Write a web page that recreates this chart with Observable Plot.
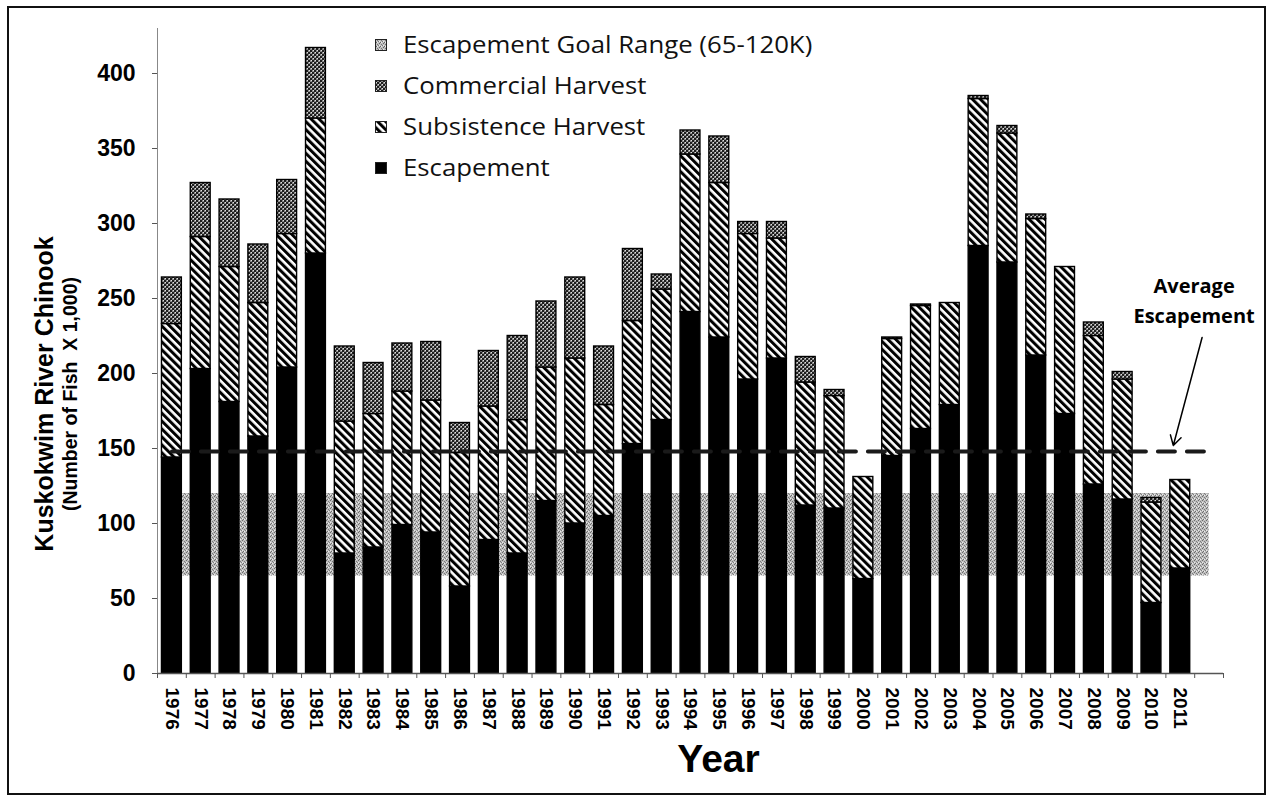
<!DOCTYPE html>
<html>
<head>
<meta charset="utf-8">
<script src="https://cdn.jsdelivr.net/npm/d3@7"></script>
<script src="https://cdn.jsdelivr.net/npm/@observablehq/plot@0.6"></script>
<style>
  body { margin: 0; background: #fff; }
  #wrap { position: relative; width: 1275px; height: 800px; overflow: hidden; background: #fff; }
  #frame { position: absolute; left: 7px; top: 6px; width: 1259px; height: 789px; border: 2px solid #111; box-sizing: border-box; pointer-events: none; }
  #legend { position: absolute; left: 375px; top: 24px; font-family: "Open Sans", sans-serif; font-size: 23px; line-height: 41px; color: #111; }
  #legend .row { display: flex; align-items: center; white-space: nowrap; }
  #legend svg { margin-right: 16px; flex: none; }
  #legend span { display: inline-block; transform: scaleX(1.12); transform-origin: left center; }
</style>
</head>
<body>
<div id="wrap">
  <svg width="0" height="0" style="position:absolute">
    <defs>
      <pattern id="hatch" width="5.6" height="5.6" patternUnits="userSpaceOnUse" patternTransform="rotate(-45)">
        <rect width="5.6" height="5.6" fill="#fff"/>
        <rect width="3.0" height="5.6" fill="#000"/>
      </pattern>
      <pattern id="stip" width="4" height="4" patternUnits="userSpaceOnUse">
        <rect width="4" height="4" fill="#8a8a8a"/>
        <rect x="0" y="0" width="2" height="2" fill="#1e1e1e"/>
        <rect x="2" y="2" width="2" height="2" fill="#1e1e1e"/>
        <rect x="3" y="0" width="1" height="1" fill="#e0e0e0"/>
        <rect x="1" y="2" width="1" height="1" fill="#e0e0e0"/>
      </pattern>
      <pattern id="goal" width="4" height="4" patternUnits="userSpaceOnUse">
        <rect width="4" height="4" fill="#c0c0c0"/>
        <rect x="0" y="0" width="1" height="1" fill="#666"/>
        <rect x="2" y="1" width="1" height="1" fill="#777"/>
        <rect x="1" y="3" width="1" height="1" fill="#666"/>
        <rect x="3" y="2" width="1" height="1" fill="#777"/>
        <rect x="2" y="3" width="1" height="1" fill="#eeeeee"/>
        <rect x="0" y="2" width="1" height="1" fill="#eeeeee"/>
      </pattern>
    </defs>
  </svg>
  <div id="chart"></div>
  <div id="legend"></div>
  <div id="frame"></div>
</div>
<script>
// ---- data (thousands of fish) ----
const years = ["1976","1977","1978","1979","1980","1981","1982","1983","1984","1985","1986","1987","1988","1989","1990","1991","1992","1993","1994","1995","1996","1997","1998","1999","2000","2001","2002","2003","2004","2005","2006","2007","2008","2009","2010","2011"];
const escapement  = [144,203,181,158,204,280,80,84,99,94,58,89,80,115,100,105,153,169,241,224,196,210,112,110,63,145,163,179,285,274,212,173,126,116,47,70];
const subsistence = [89,88,90,89,89,90,88,89,89,88,89,89,89,89,110,74,82,87,105,103,97,80,82,75,68,78,82,68,98,86,91,98,99,80,67,59];
const commercial  = [31,36,45,39,36,47,50,34,32,39,20,37,56,44,54,39,48,10,16,31,8,11,17,4,0,1,1,0,2,5,3,0,9,5,3,0];
const seriesNames = ["Escapement", "Subsistence Harvest", "Commercial Harvest"];
const goalLow = 65, goalHigh = 120;
const averageEscapement = 148;
const yTicks = [0,50,100,150,200,250,300,350,400];
const legendItems = ["Escapement Goal Range (65-120K)", "Commercial Harvest", "Subsistence Harvest", "Escapement"];
const legendFills = ["url(#goal)", "url(#stip)", "url(#hatch)", "#000"];
const yTitle = "Kuskokwim River Chinook";
const ySubtitle = "(Number of Fish  X 1,000)";
const xTitle = "Year";
const annotationText = "Average\nEscapement";

// ---- derived tables ----
const extraSlot = "";
const slots = [...years, extraSlot];
const rows = years.flatMap((yr, i) => [
  {year: yr, series: seriesNames[0], value: escapement[i]},
  {year: yr, series: seriesNames[1], value: subsistence[i]},
  {year: yr, series: seriesNames[2], value: commercial[i]}
]);
const goalRows = slots.map(s => ({slot: s, lo: goalLow, hi: goalHigh, avg: averageEscapement}));

const W = 1275, H = 800, ML = 157, MR = 52, MT = 28, MB = 127;
const step = (W - ML - MR) / slots.length;

const chart = Plot.plot({
  width: W, height: H,
  marginLeft: ML, marginRight: MR, marginTop: MT, marginBottom: MB,
  style: {background: "transparent", fontFamily: "'Liberation Sans', Arial, sans-serif", color: "#000", overflow: "visible"},
  x: {type: "band", domain: slots, paddingInner: 0.31, paddingOuter: 0.155, round: false, label: null},
  y: {domain: [0, 430], label: null},
  color: {type: "ordinal", domain: seriesNames, range: ["#000", "url(#hatch)", "url(#stip)"]},
  marks: [
    Plot.areaY(goalRows, {x: "slot", y1: "lo", y2: "hi", fill: "url(#goal)", curve: "linear"}),
    Plot.barY(rows, Plot.stackY({x: "year", y: "value", fill: "series", stroke: "#000", strokeWidth: 1.4})),
    Plot.lineY(goalRows, {x: "slot", y: "avg", stroke: "#1a1a1a", strokeWidth: 4, strokeDasharray: "17,12"}),
    Plot.ruleY([0], {stroke: "#555", strokeWidth: 1.5}),
    Plot.ruleX([years[0]], {dx: -step / 2, stroke: "#888", strokeWidth: 1}),
    Plot.axisY({ticks: yTicks, tickSize: 5, tickPadding: 17, fontSize: 23, fontWeight: "bold", label: null, stroke: "#555"}),
    Plot.axisX({ticks: slots, tickSize: 5, tickFormat: () => "", dx: -step / 2, label: null, stroke: "#555"}),
    Plot.axisX({ticks: [extraSlot], tickSize: 5, tickFormat: () => "", dx: step / 2, label: null, stroke: "#555"}),
    Plot.axisX({ticks: years, tickSize: 0, tickPadding: 14, tickRotate: 90, fontSize: 19, fontWeight: "bold", label: null}),
    Plot.text([yTitle], {frameAnchor: "left", textAnchor: "middle", dx: -113, dy: 43, rotate: -90, fontSize: 25, fontWeight: "bold", text: d => d}),
    Plot.text([ySubtitle], {frameAnchor: "left", textAnchor: "middle", dx: -87, dy: 43, rotate: -90, fontSize: 19.5, fontWeight: "bold", text: d => d}),
    Plot.text([xTitle], {frameAnchor: "bottom", dx: 28, dy: 98, fontSize: 39, fontWeight: "bold", text: d => d}),
    Plot.text([annotationText], {x: () => extraSlot, y: () => 250, dx: -15, fontSize: 20, fontWeight: "bold", fontFamily: "'Open Sans', sans-serif", lineHeight: 1.5, text: d => d}),
    Plot.arrow([0], {x1: () => extraSlot, y1: () => 224, x2: () => years[years.length - 1], y2: () => 152, dx: -7, stroke: "#000", strokeWidth: 1.5, headLength: 11})
  ]
});
document.getElementById("chart").appendChild(chart);

// ---- legend ----
const legend = d3.select("#legend");
legendItems.forEach((name, i) => {
  const row = legend.append("div").attr("class", "row");
  const sw = row.append("svg").attr("width", 12).attr("height", 12);
  sw.append("rect").attr("x", 0.5).attr("y", 0.5).attr("width", 11).attr("height", 11)
    .attr("fill", legendFills[i]).attr("stroke", "#222").attr("stroke-width", 1);
  row.append("span").text(name);
});
</script>
</body>
</html>
